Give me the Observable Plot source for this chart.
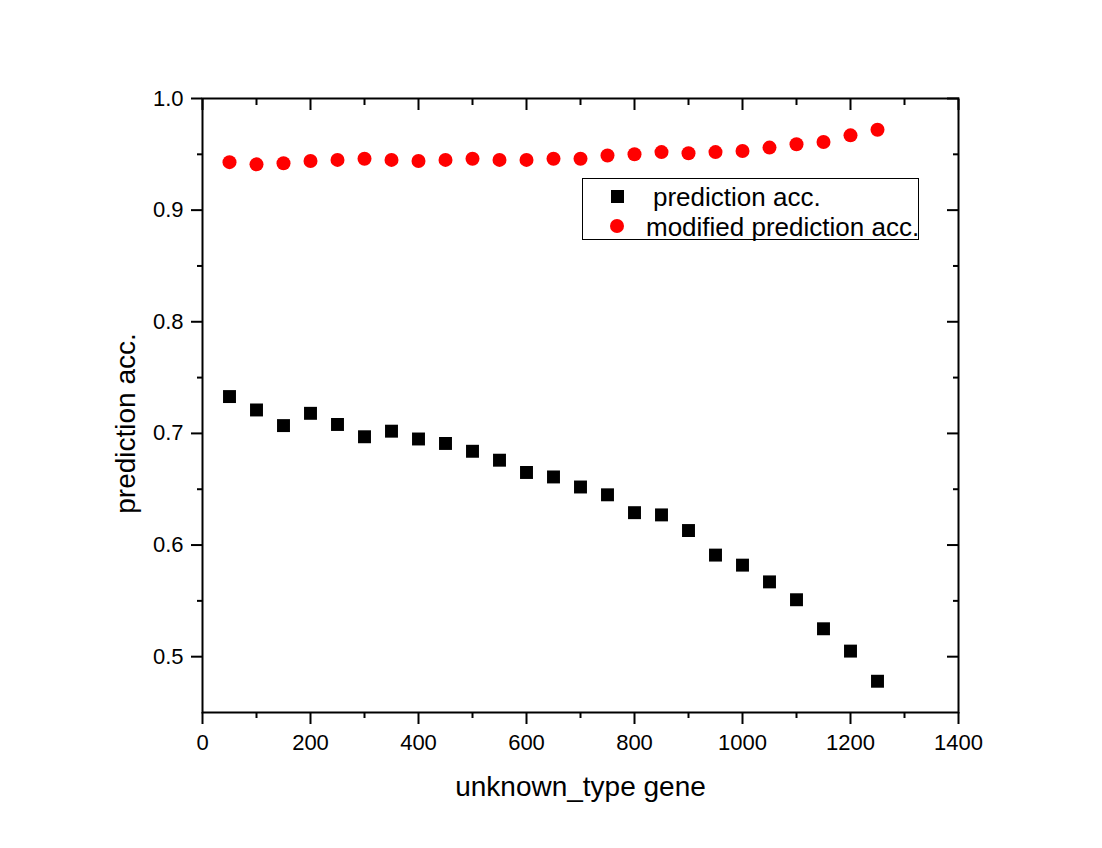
<!DOCTYPE html>
<html>
<head>
<meta charset="utf-8">
<script src="https://cdn.jsdelivr.net/npm/d3@7"></script>
<script src="https://cdn.jsdelivr.net/npm/@observablehq/plot@0.6"></script>
<style>
  html, body { margin: 0; padding: 0; background: #fff; }
  #wrap { position: relative; width: 1102px; height: 848px; font-family: "Liberation Sans", Arial, sans-serif; }
  #legend { position: absolute; left: 582px; top: 178px; width: 337px; height: 62px; border: 1px solid #000; background: #fff; box-sizing: border-box; }
  #legend .sq { position: absolute; left: 28px; top: 11px; width: 13px; height: 13px; background: #000; }
  #legend .ci { position: absolute; left: 27px; top: 40px; width: 14px; height: 14px; border-radius: 50%; background: #ff0000; }
  #legend .t { position: absolute; font-size: 26px; line-height: 30px; color: #000; white-space: nowrap; }
</style>
</head>
<body>
<div id="wrap"></div>
<script>
const geneCounts = [50, 100, 150, 200, 250, 300, 350, 400, 450, 500, 550, 600, 650, 700, 750, 800, 850, 900, 950, 1000, 1050, 1100, 1150, 1200, 1250];
const predictionAcc = [0.733, 0.721, 0.707, 0.718, 0.708, 0.697, 0.702, 0.695, 0.691, 0.684, 0.676, 0.665, 0.661, 0.652, 0.645, 0.629, 0.627, 0.613, 0.591, 0.582, 0.567, 0.551, 0.525, 0.505, 0.478];
const modifiedAcc = [0.943, 0.941, 0.942, 0.944, 0.945, 0.946, 0.945, 0.944, 0.945, 0.946, 0.945, 0.945, 0.946, 0.946, 0.949, 0.950, 0.952, 0.951, 0.952, 0.953, 0.956, 0.959, 0.961, 0.967, 0.972];
const seriesNames = ["prediction acc.", "modified prediction acc."];
const xMajorTicks = [0, 200, 400, 600, 800, 1000, 1200, 1400];
const xMinorTicks = [100, 300, 500, 700, 900, 1100, 1300];
const yMajorTicks = [0.5, 0.6, 0.7, 0.8, 0.9, 1.0];
const yMinorTicks = [0.55, 0.65, 0.75, 0.85, 0.95];
const xTitle = "unknown_type gene";
const yTitle = "prediction acc.";

const black = geneCounts.map((x, i) => ({x, y: predictionAcc[i]}));
const red = geneCounts.map((x, i) => ({x, y: modifiedAcc[i]}));

const font = "Liberation Sans, Arial, sans-serif";
const chart = Plot.plot({
  width: 1102,
  height: 848,
  marginLeft: 202,
  marginRight: 144,
  marginTop: 98,
  marginBottom: 136,
  style: {fontFamily: font, background: "#fff", color: "#000"},
  x: {domain: [0, 1400]},
  y: {domain: [0.45, 1.0]},
  marks: [
    Plot.frame({stroke: "#000", strokeWidth: 2}),
    // bottom axis (outward ticks + labels)
    Plot.axisX({ticks: xMajorTicks, anchor: "bottom", tickSize: 12, tickPadding: 10, fontSize: 22, strokeWidth: 2, label: null, tickFormat: d3.format("d")}),
    Plot.axisX({ticks: xMinorTicks, anchor: "bottom", tickSize: 6, strokeWidth: 2, fill: "none", label: null}),
    // top axis (inward ticks)
    Plot.axisX({ticks: xMajorTicks, anchor: "top", tickSize: -11, strokeWidth: 2, fill: "none", label: null}),
    Plot.axisX({ticks: xMinorTicks, anchor: "top", tickSize: -6, strokeWidth: 2, fill: "none", label: null}),
    // left axis
    Plot.axisY({ticks: yMajorTicks, anchor: "left", tickSize: 11, tickPadding: 8, fontSize: 22, strokeWidth: 2, label: null, tickFormat: d3.format(".1f")}),
    Plot.axisY({ticks: yMinorTicks, anchor: "left", tickSize: 5, strokeWidth: 2, fill: "none", label: null}),
    // right axis (inward ticks)
    Plot.axisY({ticks: yMajorTicks, anchor: "right", tickSize: -12, strokeWidth: 2, fill: "none", label: null}),
    Plot.axisY({ticks: yMinorTicks, anchor: "right", tickSize: -6, strokeWidth: 2, fill: "none", label: null}),
    // titles
    Plot.text([xTitle], {frameAnchor: "bottom", dy: 83, lineAnchor: "bottom", textAnchor: "middle", fontSize: 28, fill: "#000"}),
    Plot.text([yTitle], {frameAnchor: "left", dx: -68, dy: 18, rotate: -90, lineAnchor: "bottom", textAnchor: "middle", fontSize: 28, fill: "#000"}),
    // data
    Plot.dot(black, {x: "x", y: "y", symbol: "square", r: 7.3, fill: "#000", stroke: "none"}),
    Plot.dot(red, {x: "x", y: "y", symbol: "circle", r: 7, fill: "#ff0000", stroke: "none"})
  ]
});
const wrap = document.getElementById("wrap");
wrap.appendChild(chart);

const legend = document.createElement("div");
legend.id = "legend";
legend.innerHTML = `<span class="sq"></span><span class="t" style="left:70px;top:3px">${seriesNames[0]}</span>` +
  `<span class="ci"></span><span class="t" style="left:63px;top:33px">${seriesNames[1]}</span>`;
wrap.appendChild(legend);
</script>
</body>
</html>
